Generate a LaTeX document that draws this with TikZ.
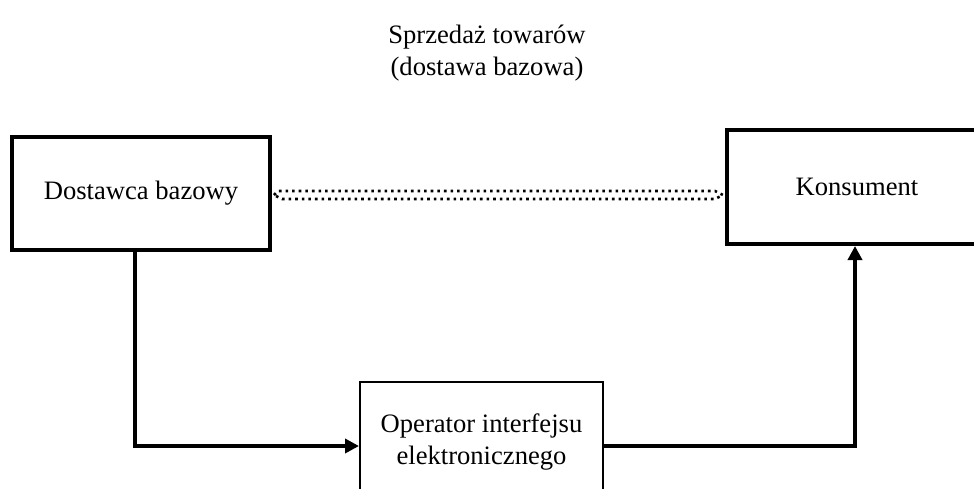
\documentclass[tikz,border=0pt]{standalone}
\usepackage{fontspec}
\setmainfont{Liberation Serif}
\usetikzlibrary{arrows.meta}
\begin{document}
\begin{tikzpicture}[x=0.5pt,y=-0.5pt,
  every node/.style={font=\fontsize{13.3pt}{16pt}\selectfont},
  thickbox/.style={draw, line width=2pt, inner sep=0pt},
  thinbox/.style={draw, line width=1pt, inner sep=0pt, align=center},
  conn/.style={line width=2pt, -{Triangle[length=7pt,width=7pt]}},
  dotarrow/.style={dotted, line width=1.3pt}
]
\useasboundingbox (0,0) rectangle (974,488);
\node (T) at (487,53) [align=center] {Sprzedaż towarów\\(dostawa bazowa)};
\node[thickbox, minimum width=129pt, minimum height=56.5pt] (D) at (141,193.5) {Dostawca bazowy};
\node[thickbox, minimum width=130pt, minimum height=57pt] (K) at (857,187) {Konsument};
\node[thinbox, minimum width=121.5pt, minimum height=60pt] (O) at (481.5,442) {Operator interfejsu\\elektronicznego};
\coordinate (c1) at (135,446);
\coordinate (c2) at (855,446);
\draw[conn] (D.south -| c1) |- (O.west |- c1);
\draw[conn] (O.east |- c2) -| (K.south -| c2);
\coordinate (L) at ([xshift=1pt]D.east |- 0,195);
\coordinate (R) at ([xshift=-1pt]K.west |- 0,195);
\draw[dotarrow] (L) -- ++(4,-4) -- ([xshift=-4]R |- 0,191) -- (R) -- ([xshift=-4]R |- 0,199) -- ([xshift=4]L |- 0,199) -- cycle;
\end{tikzpicture}
\end{document}
